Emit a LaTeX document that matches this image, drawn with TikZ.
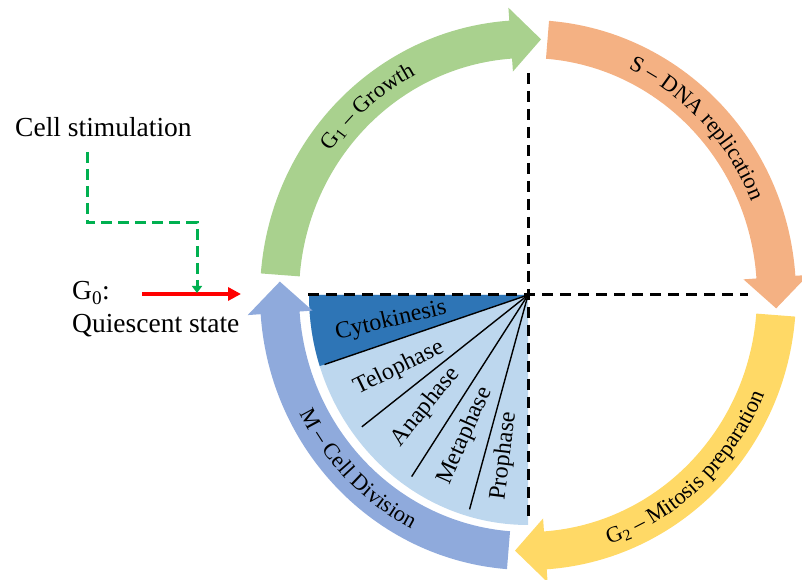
\documentclass[tikz,border=0pt]{standalone}
\usepackage{fontspec}
\setmainfont{Liberation Serif}
\usetikzlibrary{arrows.meta,decorations.text}
\definecolor{gC}{HTML}{A9D18E}
\definecolor{oC}{HTML}{F4B183}
\definecolor{yC}{HTML}{FFD966}
\definecolor{bC}{HTML}{8FAADC}
\definecolor{darkfan}{HTML}{2E75B6}
\definecolor{lightfan}{HTML}{BDD7EE}
\definecolor{stimgreen}{HTML}{00B050}
\newcommand\cyclearrow[2]{%
  \fill[#2] (#1-4.5:268 and 275) arc[start angle={#1-4.5}, end angle={#1-86}, x radius=268, y radius=275]
    -- (#1-86:281 and 288) -- (#1-93:248.5 and 256) -- (#1-86:216 and 224) -- (#1-86:229 and 237)
    arc[start angle={#1-86}, end angle={#1-4.5}, x radius=229, y radius=237] -- cycle;}
\newcommand\arcfont{\fontsize{22.5}{22.5}\selectfont}
\tikzset{
  leftlabel/.style={font=\fontsize{27.5}{30}\selectfont, inner sep=0pt, anchor=base west},
  fanlabel/.style={font=\fontsize{24}{26}\selectfont, inner sep=0pt},
  axisdash/.style={line width=3pt, dash pattern=on 11pt off 7pt},
  fanline/.style={line width=1.4pt},
  arclabel/.style={decorate, decoration={text along path, text align=center, text color=black}}
}
\begin{document}
\begin{tikzpicture}[x=1pt,y=1pt]
\useasboundingbox (0,0) rectangle (802,580);
\begin{scope}[shift={(528,285)}]
  \coordinate (C) at (0,0);
  % fan
  \fill[lightfan] (C) -- (180:219 and 230) arc[start angle=180, end angle=270, x radius=219, y radius=230] -- cycle;
  \fill[darkfan] (C) -- (180:219 and 230) arc[start angle=180, end angle=198, x radius=219, y radius=230] -- cycle;
  \coordinate (f1) at (198:214 and 225);
  \coordinate (f2) at (217:208 and 219);
  \coordinate (f3) at (236:208 and 219);
  \coordinate (f4) at (254:212 and 223);
  \foreach \p in {f1,f2,f3,f4} \draw[fanline] (C) -- (\p);
  % axes
  \coordinate (vtop) at (0,222);
  \coordinate (vbot) at (0,-222);
  \coordinate (hleft) at (-220,0);
  \coordinate (hright) at (220,0);
  \draw[axisdash] (vtop) -- (vbot);
  \draw[axisdash] (hleft) -- (hright);
  % arrows
  \cyclearrow{180}{gC}
  \cyclearrow{90}{oC}
  \cyclearrow{0}{yC}
  \cyclearrow{-90}{bC}
  % arc labels
  \path[arclabel, decoration={text={|\arcfont|{G\textsubscript{1}} – Growth}}]
    (171:241 and 249) arc[start angle=171, end angle=91, x radius=241, y radius=249];
  \path[arclabel, decoration={text={|\arcfont|S – DNA replication}}]
    (84:241 and 249) arc[start angle=84, end angle=4, x radius=241, y radius=249];
  \path[arclabel, decoration={text={|\arcfont|{G\textsubscript{2}} – Mitosis preparation}}]
    (-87:255 and 263) arc[start angle=-87, end angle=-7, x radius=255, y radius=263];
  \path[arclabel, decoration={text={|\arcfont|M – Cell Division}}]
    (185:255 and 263) arc[start angle=185, end angle=265, x radius=255, y radius=263];
\end{scope}
% fan labels
\node[fanlabel, rotate=13] (cyto) at (391,259) {Cytokinesis};
\node[fanlabel, rotate=26] (telo) at (399,212) {Telophase};
\node[fanlabel, rotate=51] (ana) at (426,173) {Anaphase};
\node[fanlabel, rotate=66] (meta) at (465,144) {Metaphase};
\node[fanlabel, rotate=83] (pro) at (504,124) {Prophase};
% left side
\node[leftlabel] (stim) at (15,443) {Cell stimulation};
\node[leftlabel] (g0) at (72,280) {G\textsubscript{0}:};
\node[leftlabel] (quie) at (72,247) {Quiescent state};
\coordinate (rs) at (142,286);
\coordinate (re) at (241,286);
\draw[red, line width=3.5pt, -{Triangle[length=13pt,width=13pt]}] (rs) -- (re);
\coordinate (s1) at (87,428);
\coordinate (s2) at (87,357);
\coordinate (s3) at (197,357);
\coordinate (s4) at (197,287);
\draw[stimgreen, line width=3pt, dash pattern=on 11pt off 6pt, -{Triangle[length=7pt,width=10pt]}] (s1) -- (s2) -- (s3) -- (s4);
\end{tikzpicture}
\end{document}
